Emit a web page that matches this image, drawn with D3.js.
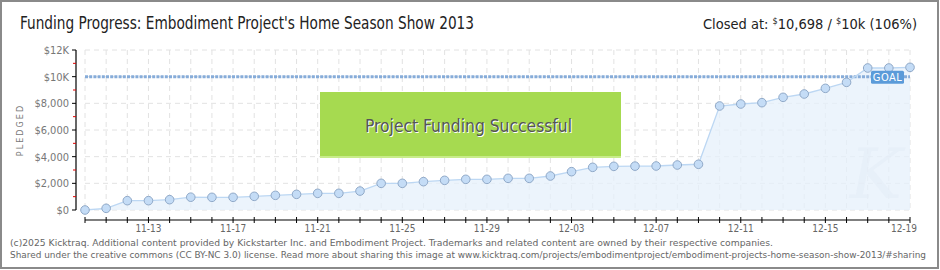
<!DOCTYPE html>
<html>
<head>
<meta charset="utf-8">
<script src="https://cdn.jsdelivr.net/npm/d3@7"></script>
<style>
  body { margin: 0; background: #fff; }
  svg { display: block; }
</style>
</head>
<body>
<svg width="940" height="270"></svg>
<script>
// daily pledged totals, 2013-11-10 .. 2013-12-19
const days = [
  '2013-11-10', '2013-11-11', '2013-11-12', '2013-11-13', '2013-11-14', '2013-11-15', '2013-11-16', '2013-11-17',
  '2013-11-18', '2013-11-19', '2013-11-20', '2013-11-21', '2013-11-22', '2013-11-23', '2013-11-24', '2013-11-25',
  '2013-11-26', '2013-11-27', '2013-11-28', '2013-11-29', '2013-11-30', '2013-12-01', '2013-12-02', '2013-12-03',
  '2013-12-04', '2013-12-05', '2013-12-06', '2013-12-07', '2013-12-08', '2013-12-09', '2013-12-10', '2013-12-11',
  '2013-12-12', '2013-12-13', '2013-12-14', '2013-12-15', '2013-12-16', '2013-12-17', '2013-12-18', '2013-12-19'
];
const pledged = [
  0, 125, 700, 700, 775, 960, 950, 950,
  1025, 1100, 1175, 1250, 1250, 1420, 2000, 2000,
  2125, 2225, 2300, 2300, 2375, 2375, 2550, 2875,
  3200, 3275, 3290, 3300, 3375, 3430, 7800, 7950,
  8050, 8450, 8700, 9125, 9575, 10650, 10650, 10698
];
const goal = 10000;
const yTicks = [0, 2000, 4000, 6000, 8000, 10000, 12000];
const yTickLabels = ['$0', '$2,000', '$4,000', '$6,000', '$8,000', '$10K', '$12K'];
const yMinorTicks = [1000, 3000, 5000, 7000, 9000, 11000];
const xLabelDays = ['2013-11-13', '2013-11-17', '2013-11-21', '2013-11-25', '2013-11-29',
  '2013-12-03', '2013-12-07', '2013-12-11', '2013-12-15', '2013-12-19'];

const parse = d3.timeParse('%Y-%m-%d');
const fmtDay = d3.timeFormat('%m-%d');
const data = days.map((d, i) => ({ date: parse(d), value: pledged[i] }));

const svg = d3.select('svg');
const pixelFont = '"DejaVu Sans Condensed", "DejaVu Sans", sans-serif';
const titleFont = '"Liberation Sans Narrow", "DejaVu Sans Condensed", sans-serif';

const x = d3.scaleTime()
  .domain([parse(days[0]), parse(days[days.length - 1])])
  .range([85, 910]);
const y = d3.scaleLinear().domain([0, 12000]).range([210, 50]);

// frame
svg.append('rect')
  .attr('x', 1).attr('y', 1).attr('width', 937).attr('height', 267)
  .attr('fill', '#fff').attr('stroke', '#8a8a8a').attr('stroke-width', 2);

// title
svg.append('text')
  .attr('x', 20).attr('y', 29)
  .attr('font-family', titleFont).attr('font-size', 17).attr('fill', '#222')
  .attr('textLength', 454).attr('lengthAdjust', 'spacingAndGlyphs')
  .text("Funding Progress: Embodiment Project's Home Season Show 2013");

const closed = svg.append('text')
  .attr('x', 917).attr('y', 29).attr('text-anchor', 'end')
  .attr('font-family', titleFont).attr('font-size', 14.5).attr('fill', '#222');
closed.append('tspan').text('Closed at:  ');
closed.append('tspan').attr('font-size', 9).attr('dy', -5).text('$');
closed.append('tspan').attr('dy', 5).text('10,698 /  ');
closed.append('tspan').attr('font-size', 9).attr('dy', -5).text('$');
closed.append('tspan').attr('dy', 5).text('10k (106%)');

// grid
const grid = svg.append('g').attr('stroke', '#e2e2e2').attr('stroke-dasharray', '5,4');
grid.selectAll('line.v').data(data).join('line')
  .attr('class', 'v')
  .attr('x1', d => x(d.date)).attr('x2', d => x(d.date))
  .attr('y1', y(12000)).attr('y2', y(0));
grid.selectAll('line.h').data(yTicks).join('line')
  .attr('class', 'h')
  .attr('x1', x.range()[0]).attr('x2', x.range()[1])
  .attr('y1', d => y(d)).attr('y2', d => y(d));

// area
svg.append('path').datum(data)
  .attr('fill', '#e6f0fb').attr('fill-opacity', 0.75)
  .attr('d', d3.area().x(d => x(d.date)).y0(y(0)).y1(d => y(d.value)));

// watermark
svg.append('text')
  .attr('x', 876).attr('y', 198).attr('text-anchor', 'middle')
  .attr('font-family', '"DejaVu Serif", serif').attr('font-style', 'italic')
  .attr('font-size', 70).attr('fill', '#e4edf7').attr('fill-opacity', 0.6)
  .text('K');

// goal line
svg.append('line')
  .attr('x1', x.range()[0]).attr('x2', x.range()[1])
  .attr('y1', y(goal)).attr('y2', y(goal))
  .attr('stroke', '#86acd9').attr('stroke-width', 3).attr('stroke-dasharray', '3,1.2');

// line + points
svg.append('path').datum(data)
  .attr('fill', 'none').attr('stroke', '#bcd7f3').attr('stroke-width', 1.3)
  .attr('d', d3.line().x(d => x(d.date)).y(d => y(d.value)));

svg.append('g').selectAll('circle').data(data).join('circle')
  .attr('cx', d => x(d.date)).attr('cy', d => y(d.value)).attr('r', 4.3)
  .attr('fill', '#c4dcf6').attr('stroke', '#90a9c8').attr('stroke-width', 1);

// GOAL tag
const goalTag = svg.append('g').attr('transform', `translate(871, ${y(goal) - 6})`);
goalTag.append('rect').attr('width', 33).attr('height', 13).attr('rx', 1.5)
  .attr('fill', '#5b9bd9');
goalTag.append('text').attr('x', 16.5).attr('y', 10.5).attr('text-anchor', 'middle')
  .attr('font-family', pixelFont).attr('font-size', 11).attr('fill', '#fff')
  .attr('letter-spacing', 0.5).text('GOAL');

// y axis
const yAxis = svg.append('g');
yAxis.append('line').attr('x1', 76).attr('x2', 76).attr('y1', y(12000)).attr('y2', y(0))
  .attr('stroke', '#000').attr('stroke-width', 1.2);
yAxis.selectAll('line.maj').data(yTicks).join('line').attr('class', 'maj')
  .attr('x1', 72).attr('x2', 76).attr('y1', d => y(d)).attr('y2', d => y(d))
  .attr('stroke', '#000');
yAxis.selectAll('line.min').data(yMinorTicks).join('line').attr('class', 'min')
  .attr('x1', 73).attr('x2', 76).attr('y1', d => y(d)).attr('y2', d => y(d))
  .attr('stroke', '#e00000');
yAxis.selectAll('text').data(yTicks).join('text')
  .attr('x', 69).attr('y', d => y(d) + 4).attr('text-anchor', 'end')
  .attr('font-family', pixelFont).attr('font-size', 11).attr('fill', '#777')
  .text((d, i) => yTickLabels[i]);
svg.append('text')
  .attr('transform', `translate(23, ${y(6000)}) rotate(-90)`)
  .attr('text-anchor', 'middle')
  .attr('font-family', pixelFont).attr('font-size', 9).attr('fill', '#777')
  .attr('letter-spacing', 2).text('PLEDGED');

// x axis
const xAxisY = 220;
const xAxis = svg.append('g');
xAxis.append('line').attr('x1', x.range()[0]).attr('x2', x.range()[1])
  .attr('y1', xAxisY).attr('y2', xAxisY).attr('stroke', '#000').attr('stroke-width', 1.2);
xAxis.selectAll('line.tick').data(data).join('line').attr('class', 'tick')
  .attr('x1', d => x(d.date)).attr('x2', d => x(d.date))
  .attr('y1', xAxisY - 3).attr('y2', xAxisY + 3).attr('stroke', '#000');
xAxis.selectAll('text').data(xLabelDays).join('text')
  .attr('x', d => Math.min(x(parse(d)), 904))
  .attr('y', 232).attr('text-anchor', 'middle')
  .attr('font-family', pixelFont).attr('font-size', 10).attr('fill', '#666')
  .text(d => fmtDay(parse(d)));

// success banner
const banner = svg.append('g').attr('transform', 'translate(320, 92)');
banner.append('rect').attr('width', 301).attr('height', 66).attr('fill', '#a6da50');
banner.append('rect').attr('y', 64).attr('width', 301).attr('height', 2).attr('fill', '#c8ec8a');
banner.append('text').attr('x', 46).attr('y', 41)
  .attr('font-family', titleFont).attr('font-size', 18).attr('fill', '#fff')
  .attr('textLength', 207).attr('lengthAdjust', 'spacingAndGlyphs')
  .text('Project Funding Successful');
banner.append('text').attr('x', 45).attr('y', 40)
  .attr('font-family', titleFont).attr('font-size', 18).attr('fill', '#555')
  .attr('textLength', 207).attr('lengthAdjust', 'spacingAndGlyphs')
  .text('Project Funding Successful');

// footer
const foot = svg.append('g')
  .attr('font-family', '"DejaVu Sans", Verdana, sans-serif').attr('fill', '#666');
foot.append('text').attr('x', 10).attr('y', 246).attr('font-size', 9.4)
  .attr('textLength', 763).attr('lengthAdjust', 'spacingAndGlyphs')
  .text('(c)2025 Kicktraq. Additional content provided by Kickstarter Inc. and Embodiment Project. Trademarks and related content are owned by their respective companies.');
foot.append('text').attr('x', 10).attr('y', 258).attr('font-size', 8.9)
  .attr('textLength', 916).attr('lengthAdjust', 'spacingAndGlyphs')
  .text('Shared under the creative commons (CC BY-NC 3.0) license. Read more about sharing this image at www.kicktraq.com/projects/embodimentproject/embodiment-projects-home-season-show-2013/#sharing');
</script>
</body>
</html>
